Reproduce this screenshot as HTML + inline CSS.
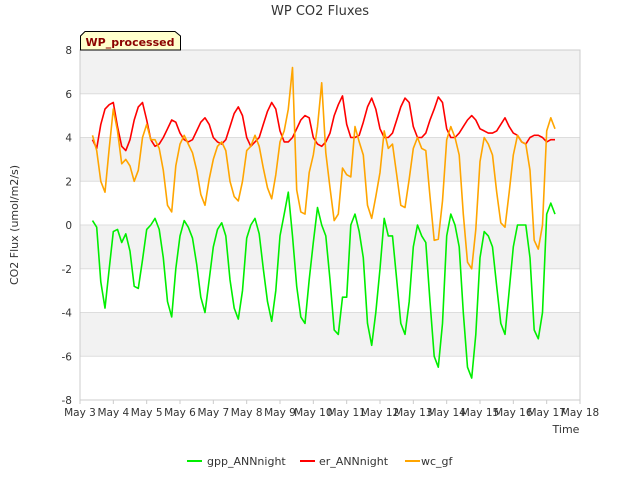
<!DOCTYPE html>
<html><head><meta charset="utf-8"><style>
body{margin:0;background:#fff;font-family:"Liberation Sans","DejaVu Sans",sans-serif}
svg text{font-family:"DejaVu Sans","Liberation Sans",sans-serif}
</style></head><body>
<svg id="chart" width="640" height="480" viewBox="0 0 640 480" xmlns="http://www.w3.org/2000/svg">
<rect width="640" height="480" fill="#fff"/>
<text x="320" y="15" text-anchor="middle" font-size="13" fill="#333">WP CO2 Fluxes</text>
<g id="bands"></g><g id="grid"></g>
<rect x="80" y="50" width="500" height="350" fill="none" stroke="#ccc"/>
<g id="yticks"></g><g id="xticks"></g><g id="series"></g>
<text transform="translate(18,225) rotate(-90)" text-anchor="middle" font-size="11" fill="#333">CO2 Flux (umol/m2/s)</text>
<text x="566" y="433" text-anchor="middle" font-size="11" fill="#333">Time</text>
<g>
<path d="M80.5 50 V36 L85 31.5 H175 L180.5 36 V50 Z" fill="#ffffcc" stroke="#000"/>
<text x="130" y="46" text-anchor="middle" font-size="11" font-weight="bold" fill="#8b0000">WP_processed</text>
</g>
<g>
<g><line x1="187" y1="461" x2="202" y2="461" stroke="#00ee00" stroke-width="2"/><text x="207" y="465" font-size="11" fill="#333">gpp_ANNnight</text></g>
<g><line x1="300" y1="461" x2="315" y2="461" stroke="#ff0000" stroke-width="2"/><text x="319" y="465" font-size="11" fill="#333">er_ANNnight</text></g>
<g><line x1="405" y1="461" x2="420" y2="461" stroke="#ffa500" stroke-width="2"/><text x="421" y="465" font-size="11" fill="#333">wc_gf</text></g>
</g>
</svg>
<script>
const yTicks=[-8,-6,-4,-2,0,2,4,6,8];
const xTickDays=[3,4,5,6,7,8,9,10,11,12,13,14,15,16,17,18];
const xTickLabels=["May 3","May 4","May 5","May 6","May 7","May 8","May 9","May 10","May 11","May 12","May 13","May 14","May 15","May 16","May 17","May 18"];
const startDay=3.375, stepDay=0.125;
const gpp=[0.2,-0.1,-2.6,-3.8,-2.0,
-0.3,-0.2,-0.8,-0.4,-1.2,-2.8,-2.9,-1.6,
-0.2,0.0,0.3,-0.2,-1.5,-3.5,-4.2,-2.0,
-0.5,0.2,-0.1,-0.6,-1.8,-3.3,-4.0,-2.5,
-1.0,-0.2,0.1,-0.5,-2.5,-3.8,-4.3,-3.0,
-0.6,0.0,0.3,-0.4,-2.0,-3.5,-4.4,-3.0,
-0.5,0.5,1.5,-0.5,-2.8,-4.2,-4.5,-2.5,
-0.8,0.8,0.0,-0.5,-2.5,-4.8,-5.0,-3.3,
-3.3,0.0,0.5,-0.3,-1.5,-4.5,-5.5,-4.0,
-2.0,0.3,-0.5,-0.5,-2.5,-4.5,-5.0,-3.5,
-1.0,0.0,-0.5,-0.8,-3.5,-6.0,-6.5,-4.5,
-0.5,0.5,0.0,-1.0,-4.0,-6.5,-7.0,-5.0,
-1.5,-0.3,-0.5,-1.0,-2.8,-4.5,-5.0,-3.0,
-1.0,0.0,0.0,0.0,-1.5,-4.8,-5.2,-4.0,
0.5,1.0,0.5];
const er=[3.9,3.5,4.6,5.3,5.5,
5.6,4.5,3.6,3.4,3.9,4.8,5.4,5.6,
4.8,3.9,3.6,3.7,4.0,4.4,4.8,4.7,
4.2,3.9,3.8,3.9,4.3,4.7,4.9,4.6,
4.0,3.8,3.7,3.9,4.5,5.1,5.4,5.0,
4.0,3.6,3.8,4.0,4.6,5.2,5.6,5.3,
4.3,3.8,3.8,4.0,4.4,4.8,5.0,4.9,
4.0,3.7,3.6,3.8,4.2,5.0,5.5,5.9,
4.6,4.0,4.0,4.1,4.7,5.4,5.8,5.3,
4.4,4.0,4.0,4.2,4.8,5.4,5.8,5.6,
4.5,4.0,4.0,4.2,4.8,5.3,5.85,5.6,
4.4,4.0,4.0,4.2,4.5,4.8,5.0,4.8,
4.4,4.3,4.2,4.2,4.3,4.6,4.9,4.5,
4.2,4.1,3.8,3.7,4.0,4.1,4.1,4.0,
3.8,3.9,3.9];
const wc=[4.1,3.4,2.0,1.5,3.5,
5.3,4.3,2.8,3.0,2.7,2.0,2.5,4.0,
4.6,3.9,3.9,3.5,2.5,0.9,0.6,2.7,
3.7,4.1,3.7,3.3,2.5,1.4,0.9,2.1,
3.0,3.6,3.8,3.4,2.0,1.3,1.1,2.0,
3.4,3.6,4.1,3.6,2.6,1.7,1.2,2.3,
3.8,4.3,5.3,7.2,1.6,0.6,0.5,2.4,
3.2,4.5,6.5,3.3,1.7,0.2,0.5,2.6,
2.3,2.2,4.5,3.8,3.2,0.9,0.3,1.3,
2.4,4.3,3.5,3.7,2.3,0.9,0.8,2.1,
3.5,4.0,3.5,3.4,1.3,-0.7,-0.65,1.1,
3.9,4.5,4.0,3.2,0.5,-1.7,-2.0,-0.2,
2.9,4.0,3.7,3.2,1.5,0.1,-0.1,1.5,
3.2,4.1,3.8,3.7,2.5,-0.7,-1.1,0.0,
4.3,4.9,4.4];
const NS="http://www.w3.org/2000/svg";
const X=d=>80+(d-3)*500/15;
const Y=v=>50+(8-v)*350/16;
function mk(t,a,p){const e=document.createElementNS(NS,t);for(const k in a)e.setAttribute(k,a[k]);p.appendChild(e);return e;}
const bands=document.getElementById('bands');
[[6,8],[2,4],[-2,0],[-6,-4]].forEach(b=>{
  const r=mk('rect',{x:80,y:Y(b[1]),width:500,height:Y(b[0])-Y(b[1]),fill:'#f2f2f2'},bands);
  
  
});
const grid=document.getElementById('grid'),yt=document.getElementById('yticks'),xt=document.getElementById('xticks');
yTicks.forEach(v=>{
  const l=mk('line',{x1:80,x2:580,y1:Y(v),y2:Y(v),stroke:'#ddd'},grid);
  
  
  const t=mk('text',{x:72,y:Y(v)+4,'text-anchor':'end','font-size':10.5,fill:'#333'},yt);
  
  
  t.textContent=v;
});
xTickDays.forEach((d,i)=>{
  mk('line',{x1:X(d),x2:X(d),y1:400,y2:404,stroke:'#ccc'},xt);
  const t=mk('text',{x:X(d),y:416,'text-anchor':'middle','font-size':10.5,fill:'#333'},xt);
  
  
  t.textContent=xTickLabels[i];
});
const sg=document.getElementById('series');
function draw(arr,color,name){
  const pts=arr.map((v,i)=>X(startDay+i*stepDay).toFixed(1)+','+Y(v).toFixed(1)).join(' ');
  const p=mk('polyline',{points:pts,fill:'none',stroke:color,'stroke-width':1.6,'stroke-linejoin':'round'},sg);
  
  
}
draw(gpp,'#00ee00','gpp-line');
draw(er,'#ff0000','er-line');
draw(wc,'#ffa500','wc-line');
</script>
</body></html>
